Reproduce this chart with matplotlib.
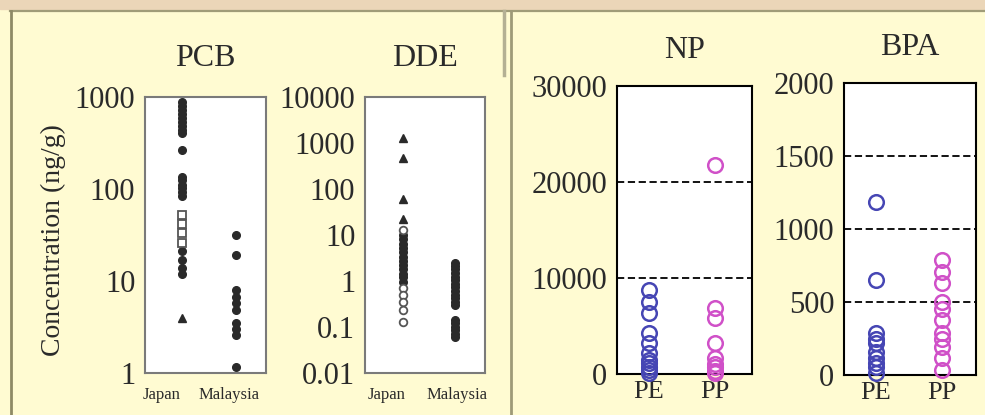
import matplotlib.pyplot as plt
from matplotlib.lines import Line2D

plt.rcParams["font.family"] = ["Liberation Serif", "DejaVu Serif"]

# --- data ---
pcb_categories = ["Japan", "Malaysia"]
pcb_japan_filled = [880, 790, 720, 650, 590, 530, 485, 440, 406, 265,
                    135, 125, 110, 102, 93, 84, 21, 17, 14, 12]
pcb_japan_open = [52, 42, 33, 26]
pcb_japan_tri = [4.0]
pcb_malaysia = [31.6, 19.2, 8.0, 6.7, 5.8, 4.9, 3.5, 3.0, 2.6, 1.16]

dde_japan_tri = [1290, 470, 61, 22]
dde_japan_filled = [10, 8, 6.5, 5.2, 4.2, 3.4, 2.7, 2.2, 1.8, 1.45, 1.2, 0.95]
dde_japan_open = [13, 0.7, 0.5, 0.35, 0.23, 0.13]
dde_malaysia = [2.5, 2.1, 1.8, 1.5, 1.25, 1.05, 0.88, 0.74, 0.6, 0.5, 0.42,
                0.35, 0.3, 0.14, 0.12, 0.1, 0.085, 0.072, 0.062]

resin_categories = ["PE", "PP"]
np_pe = [8750, 7500, 6350, 4270, 3230, 2190, 1500, 1150, 700, 420, 150]
np_pp = [21770, 6870, 5830, 3230, 1670, 1000, 730, 300, 100]
bpa_pe = [1185, 650, 288, 250, 219, 160, 116, 80, 55, 14]
bpa_pp = [788, 705, 630, 500, 450, 377, 288, 250, 192, 116, 34]

W, H = 985, 415
BG = "#FFFBD2"
DARK = "#2a2a2a"
PE_COL = "#4646b4"
PP_COL = "#d050c8"

fig = plt.figure(figsize=(W / 100, H / 100), dpi=100, facecolor=BG)


def px_axes(l, t, r, b):
    return fig.add_axes([l / W, 1 - b / H, (r - l) / W, (b - t) / H])


def fline(xs, ys, color, lw):
    fig.add_artist(Line2D([x / W for x in xs], [1 - y / H for y in ys],
                          color=color, lw=lw, transform=fig.transFigure))


# slide decoration: top strip and panel borders
fig.add_artist(plt.Rectangle((0, 1 - 9 / H), 1, 9 / H, color="#EBD6B8",
                             transform=fig.transFigure, zorder=0))
fline([10, 985], [11, 11], "#A09C78", 1.6)
fline([11, 11], [11, 415], "#8E8A66", 2.0)
fline([504, 504], [11, 75], "#B4B094", 2.5)
fline([511, 511], [11, 415], "#9E9A78", 2.0)


def style_log_axes(ax):
    for s in ax.spines.values():
        s.set_color("#7a7a7a")
        s.set_linewidth(1.5)
    ax.set_yscale("log")
    ax.tick_params(axis="y", which="both", length=0, labelsize=22, pad=7,
                   labelcolor=DARK)
    ax.tick_params(axis="y", which="minor", left=False)
    ax.tick_params(axis="x", length=0, labelsize=12, pad=10, labelcolor=DARK)


def log_fmt(v):
    return f"{v:g}"


# PCB panel
ax1 = px_axes(145, 97, 266, 373)
style_log_axes(ax1)
ax1.plot([0] * len(pcb_japan_filled), pcb_japan_filled, "o", ms=5.5,
         color=DARK, mec=DARK)
ax1.plot([0] * len(pcb_japan_open), pcb_japan_open, "s", ms=5.5,
         mfc="white", mec="#555555", mew=1.3)
ax1.plot([0] * len(pcb_japan_tri), pcb_japan_tri, "^", ms=5.5, color=DARK)
ax1.plot([1] * len(pcb_malaysia), pcb_malaysia, "o", ms=5.5, color=DARK)
ax1.set_ylim(1, 1000)
ax1.set_xlim(-0.70, 1.57)
pcb_ticks = [1, 10, 100, 1000]
ax1.set_yticks(pcb_ticks, [log_fmt(v) for v in pcb_ticks])
ax1.set_xticks([-0.38, 0.87], pcb_categories)
ax1.set_title("PCB", fontsize=23, pad=22, color=DARK)

# DDE panel
ax2 = px_axes(365, 97, 485, 373)
style_log_axes(ax2)
ax2.plot([0] * len(dde_japan_tri), dde_japan_tri, "^", ms=5.5, color=DARK)
ax2.plot([0] * len(dde_japan_filled), dde_japan_filled, "o", ms=5.5,
         color=DARK)
ax2.plot([0] * len(dde_japan_open), dde_japan_open, "o", ms=5.5,
         mfc="white", mec="#555555", mew=1.3)
ax2.plot([1] * len(dde_malaysia), dde_malaysia, "o", ms=5.5, color=DARK)
ax2.set_ylim(0.01, 10000)
ax2.set_xlim(-0.74, 1.59)
dde_ticks = [0.01, 0.1, 1, 10, 100, 1000, 10000]
ax2.set_yticks(dde_ticks, [log_fmt(v) for v in dde_ticks])
ax2.set_xticks([-0.32, 1.05], pcb_categories)
ax2.set_title("DDE", fontsize=23, pad=22, color=DARK)

fig.text(53 / W, 1 - 240 / H, "Concentration (ng/g)", rotation=90,
         ha="center", va="center", fontsize=20, color=DARK)


def style_lin_axes(ax, ymax, grid_vals, ticks):
    for s in ax.spines.values():
        s.set_color("black")
        s.set_linewidth(1.5)
    ax.set_ylim(0, ymax)
    ax.set_yticks(ticks)
    ax.tick_params(axis="y", length=0, labelsize=22, pad=7, labelcolor=DARK)
    ax.tick_params(axis="x", length=0, labelsize=19, pad=5, labelcolor=DARK)
    for g in grid_vals:
        ax.axhline(g, color="black", lw=1.3, ls=(0, (4, 2)), zorder=1)


# NP panel
ax3 = px_axes(617, 86, 752, 374)
style_lin_axes(ax3, 30000, [10000, 20000], [0, 10000, 20000, 30000])
ax3.plot([0] * len(np_pe), np_pe, "o", ms=10.5, mfc="none", mec=PE_COL,
         mew=1.8, zorder=3)
ax3.plot([1] * len(np_pp), np_pp, "o", ms=10.5, mfc="none", mec=PP_COL,
         mew=1.8, zorder=3)
ax3.set_xlim(-0.485, 1.56)
ax3.set_xticks([0, 1], resin_categories)
ax3.set_title("NP", fontsize=23, pad=20, color=DARK)

# BPA panel
ax4 = px_axes(844, 83, 976, 375)
style_lin_axes(ax4, 2000, [500, 1000, 1500], [0, 500, 1000, 1500, 2000])
ax4.plot([0] * len(bpa_pe), bpa_pe, "o", ms=10.5, mfc="none", mec=PE_COL,
         mew=1.8, zorder=3)
ax4.plot([1] * len(bpa_pp), bpa_pp, "o", ms=10.5, mfc="none", mec=PP_COL,
         mew=1.8, zorder=3)
ax4.set_xlim(-0.485, 1.515)
ax4.set_xticks([0, 1], resin_categories)
ax4.set_title("BPA", fontsize=23, pad=20, color=DARK)

for ax in (ax1, ax2, ax3, ax4):
    ax.set_facecolor("white")
    for ln in ax.lines:
        ln.set_clip_on(False)

fig.savefig("out.png", dpi=100, facecolor=BG)
